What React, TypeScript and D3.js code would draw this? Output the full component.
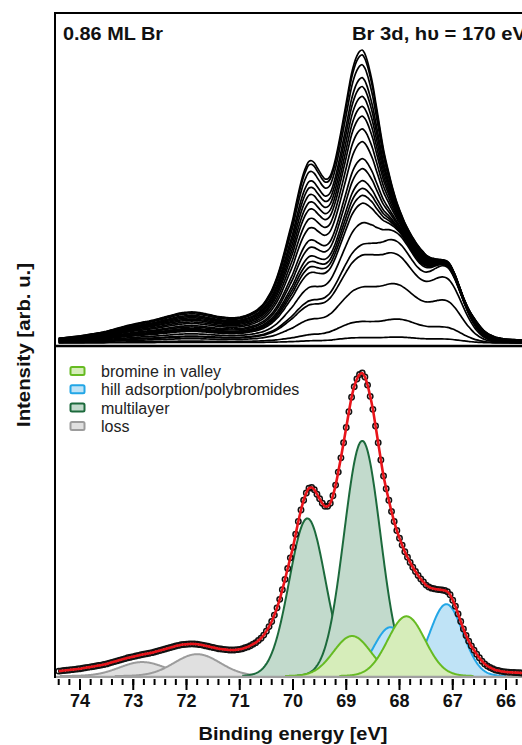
import React from 'react';
import * as d3 from 'd3';

// ---------------- data ----------------
// measured Br 3d spectrum (final coverage), binding energy grid 74.40 -> 65.70 eV, step 0.05 eV
const ENERGY_START = 74.4;
const ENERGY_STEP = 0.05;
const MEASURED = [
  1.6, 1.7, 1.8, 1.9, 2.0, 2.1, 2.2, 2.3, 2.4, 2.55,
  2.7, 2.85, 3.0, 3.15, 3.3, 3.45, 3.6, 3.8, 4.0, 4.25,
  4.5, 4.75, 5.0, 5.25, 5.5, 5.75, 6.0, 6.2, 6.4, 6.6,
  6.8, 7.0, 7.2, 7.35, 7.5, 7.7, 7.9, 8.15, 8.4, 8.65,
  8.9, 9.15, 9.4, 9.65, 9.9, 10.1, 10.3, 10.4, 10.5, 10.55,
  10.6, 10.55, 10.5, 10.35, 10.2, 10.0, 9.8, 9.6, 9.4, 9.2,
  9.0, 8.9, 8.8, 8.7, 8.6, 8.6, 8.6, 8.7, 8.8, 9.0,
  9.3, 9.6, 10.0, 10.5, 11.0, 11.7, 12.5, 13.5, 14.8, 16.3,
  18.0, 20.1, 22.5, 25.3, 28.5, 31.9, 35.5, 39.0, 42.5, 46.8,
  51.0, 54.8, 58.0, 60.4, 62.0, 62.2, 61.5, 60.0, 58.5, 57.0,
  56.0, 56.0, 57.0, 59.5, 63.0, 67.3, 72.0, 77.0, 82.0, 87.2,
  92.0, 95.5, 98.0, 99.5, 100.0, 98.7, 96.0, 92.3, 88.0, 82.5,
  77.0, 71.3, 66.0, 61.8, 58.0, 54.3, 51.0, 48.0, 45.5, 43.2,
  41.0, 39.2, 37.5, 35.9, 34.5, 33.2, 32.0, 31.0, 30.0, 29.4,
  29.0, 28.8, 28.6, 28.5, 28.4, 28.2, 27.8, 26.8, 25.0, 23.0,
  20.5, 18.0, 15.5, 13.4, 11.5, 9.9, 8.5, 7.2, 6.0, 4.9,
  4.0, 3.3, 2.8, 2.4, 2.0, 1.8, 1.6, 1.45, 1.3, 1.25,
  1.2, 1.15, 1.1, 1.05, 1.0,
];

// fitted components (Br 3d5/2, 3d3/2 doublets)
const COMPONENT_LABELS = ['bromine in valley', 'hill adsorption/polybromides', 'multilayer', 'loss'];
const COMPONENT_CENTERS = [[68.89, 67.87], [68.17, 67.12], [69.73, 68.70], [72.83, 71.80]];
const COMPONENT_HEIGHTS = [[13.2, 19.7], [16.1, 23.7], [52.0, 77.6], [4.6, 7.2]];
const COMPONENT_SIGMAS = [0.35, 0.31, 0.34, 0.43];
const COMPONENT_STROKES = ['#66bb22', '#22a6e6', '#1c6a3c', '#9c9c9c'];
const COMPONENT_FILLS = ['#d6edba', '#bfe3f6', '#c2dacc', '#e0e0e0'];

// uptake series (top panel): weight of each component group per spectrum
const SERIES_MULTILAYER = [1.0, 0.98, 0.94, 0.887, 0.851, 0.811, 0.77, 0.73, 0.678, 0.626, 0.557, 0.516, 0.467, 0.436, 0.407, 0.375, 0.295, 0.222, 0.2, 0.12, 0.04, 0.01];
const SERIES_VALLEY = [1, 1, 1, 1, 1, 1, 1, 1, 1, 1, 1, 1, 1, 1, 1, 1, 1, 0.9, 0.8, 0.55, 0.25, 0.06];
const SERIES_HILL = [1, 1, 1, 1, 1, 1, 1, 1, 1, 1, 1, 1, 1, 1, 1, 1, 1, 1, 0.85, 0.55, 0.2, 0.05];
const SERIES_REST = [1.0, 0.98, 0.94, 0.887, 0.851, 0.811, 0.77, 0.73, 0.678, 0.626, 0.557, 0.516, 0.467, 0.436, 0.407, 0.375, 0.295, 0.222, 0.2, 0.14, 0.06, 0.02];

const X_MAJOR_TICKS = [74, 73, 72, 71, 70, 69, 68, 67, 66];

const FONT = 'Arial, "Liberation Sans", Helvetica, sans-serif';

export default function App() {
  const energies = MEASURED.map((_, i) => ENERGY_START - i * ENERGY_STEP);

  const x = d3.scaleLinear().domain([74, 66]).range([80, 506]);
  const yTop = d3.scaleLinear().domain([0, 100]).range([343, 50]);
  const yBot = d3.scaleLinear().domain([0, 100]).range([676, 373]);

  const gauss = (e: number, c: number, h: number, s: number) =>
    h * Math.exp(-((e - c) ** 2) / (2 * s * s));
  const groupAt = (g: number, e: number) =>
    COMPONENT_CENTERS[g].reduce(
      (acc, c, k) => acc + gauss(e, c, COMPONENT_HEIGHTS[g][k], COMPONENT_SIGMAS[g]),
      0
    );

  const residual = energies.map(
    (e, i) => MEASURED[i] - groupAt(0, e) - groupAt(1, e) - groupAt(2, e)
  );
  const spectra = SERIES_MULTILAYER.map((wm, s) =>
    energies.map(
      (e, i) =>
        wm * groupAt(2, e) +
        SERIES_VALLEY[s] * groupAt(0, e) +
        SERIES_HILL[s] * groupAt(1, e) +
        SERIES_REST[s] * residual[i]
    )
  );

  const topLine = d3
    .line<number>()
    .x((_, i) => x(energies[i]))
    .y((v) => yTop(v))
    .curve(d3.curveCatmullRom.alpha(0.5));

  const envLine = d3
    .line<number>()
    .x((_, i) => x(energies[i]))
    .y((v) => yBot(v))
    .curve(d3.curveCatmullRom.alpha(0.5));

  // component peaks
  const drawOrder = [3, 2, 1, 0];
  const peaks: { g: number; k: number; pts: number[] }[] = [];
  drawOrder.forEach((g) => {
    COMPONENT_CENTERS[g].forEach((c, k) => {
      const s = COMPONENT_SIGMAS[g];
      const pts = d3.range(c + 3.6 * s, c - 3.6 * s, -0.01);
      peaks.push({ g, k, pts });
    });
  });

  const minorTicks = d3.range(74.4, 65.6, -0.2).map((v) => Math.round(v * 10) / 10);

  return (
    <svg
      width={522}
      height={745}
      style={{ position: 'absolute', left: 0, top: 0, background: '#fff' }}
      fontFamily={FONT}
    >
      <defs>
        <clipPath id="topClip">
          <rect x={56} y={14} width={470} height={331} />
        </clipPath>
        <clipPath id="botClip">
          <rect x={56} y={348} width={470} height={330} />
        </clipPath>
      </defs>
      <rect x={0} y={0} width={522} height={745} fill="#fff" />

      {/* top panel spectra */}
      <g clipPath="url(#topClip)">
        {spectra
          .slice()
          .reverse()
          .map((sp, i) => (
            <path key={i} d={topLine(sp) || ''} fill="none" stroke="#000" strokeWidth={1.7} />
          ))}
      </g>

      {/* bottom panel components */}
      <g clipPath="url(#botClip)">
        {peaks.map(({ g, k, pts }) => {
          const c = COMPONENT_CENTERS[g][k];
          const h = COMPONENT_HEIGHTS[g][k];
          const s = COMPONENT_SIGMAS[g];
          const area = d3
            .area<number>()
            .x((e) => x(e))
            .y0(yBot(0))
            .y1((e) => yBot(gauss(e, c, h, s)));
          const line = d3
            .line<number>()
            .x((e) => x(e))
            .y((e) => yBot(gauss(e, c, h, s)));
          return (
            <g key={`${g}-${k}`}>
              <path d={area(pts) || ''} fill={COMPONENT_FILLS[g]} stroke="none" />
              <path d={line(pts) || ''} fill="none" stroke={COMPONENT_STROKES[g]} strokeWidth={2} />
            </g>
          );
        })}
        <line x1={55} x2={522} y1={677} y2={677} stroke="#a0a0a0" strokeWidth={2.5} />
        {MEASURED.map((v, i) => (
          <circle
            key={i}
            cx={x(energies[i])}
            cy={yBot(v)}
            r={2.7}
            fill="none"
            stroke="#111"
            strokeWidth={1.5}
          />
        ))}
        <path d={envLine(MEASURED) || ''} fill="none" stroke="#e8141a" strokeWidth={2.6} />
      </g>

      {/* frame */}
      <line x1={55} x2={55} y1={12} y2={678} stroke="#000" strokeWidth={2} />
      <line x1={54} x2={522} y1={13} y2={13} stroke="#000" strokeWidth={2} />
      <line x1={54} x2={522} y1={346} y2={346} stroke="#000" strokeWidth={2.5} />

      {/* x ticks */}
      {minorTicks.map((t, i) => (
        <line key={'m' + i} x1={x(t)} x2={x(t)} y1={679} y2={685} stroke="#000" strokeWidth={2} />
      ))}
      {X_MAJOR_TICKS.map((t) => (
        <g key={t}>
          <line x1={x(t)} x2={x(t)} y1={679} y2={690} stroke="#000" strokeWidth={2} />
          <text x={x(t)} y={707} textAnchor="middle" fontSize={18} fontWeight="bold" fill="#111">
            {t}
          </text>
        </g>
      ))}

      {/* axis titles */}
      <text
        x={293}
        y={740}
        textAnchor="middle"
        fontSize={18}
        fontWeight="bold"
        fill="#111"
        textLength={189}
        lengthAdjust="spacingAndGlyphs"
      >
        Binding energy [eV]
      </text>
      <text
        transform="translate(30,345) rotate(-90)"
        textAnchor="middle"
        fontSize={18}
        fontWeight="bold"
        fill="#111"
        textLength={164}
        lengthAdjust="spacingAndGlyphs"
      >
        Intensity [arb. u.]
      </text>

      {/* annotations */}
      <text x={63} y={40} fontSize={18} fontWeight="bold" fill="#111" textLength={100} lengthAdjust="spacingAndGlyphs">
        0.86 ML Br
      </text>
      <text x={352} y={40} fontSize={18} fontWeight="bold" fill="#111" textLength={174} lengthAdjust="spacingAndGlyphs">
        Br 3d, hυ = 170 eV
      </text>

      {/* legend */}
      {COMPONENT_LABELS.map((lab, i) => {
        const by = 377 + i * 18.3;
        return (
          <g key={lab}>
            <rect
              x={70.5}
              y={by - 10}
              width={14}
              height={8}
              rx={1.5}
              fill={COMPONENT_FILLS[i]}
              stroke={COMPONENT_STROKES[i]}
              strokeWidth={2}
            />
            <text x={101} y={by} fontSize={16} fill="#222">
              {lab}
            </text>
          </g>
        );
      })}
    </svg>
  );
}
